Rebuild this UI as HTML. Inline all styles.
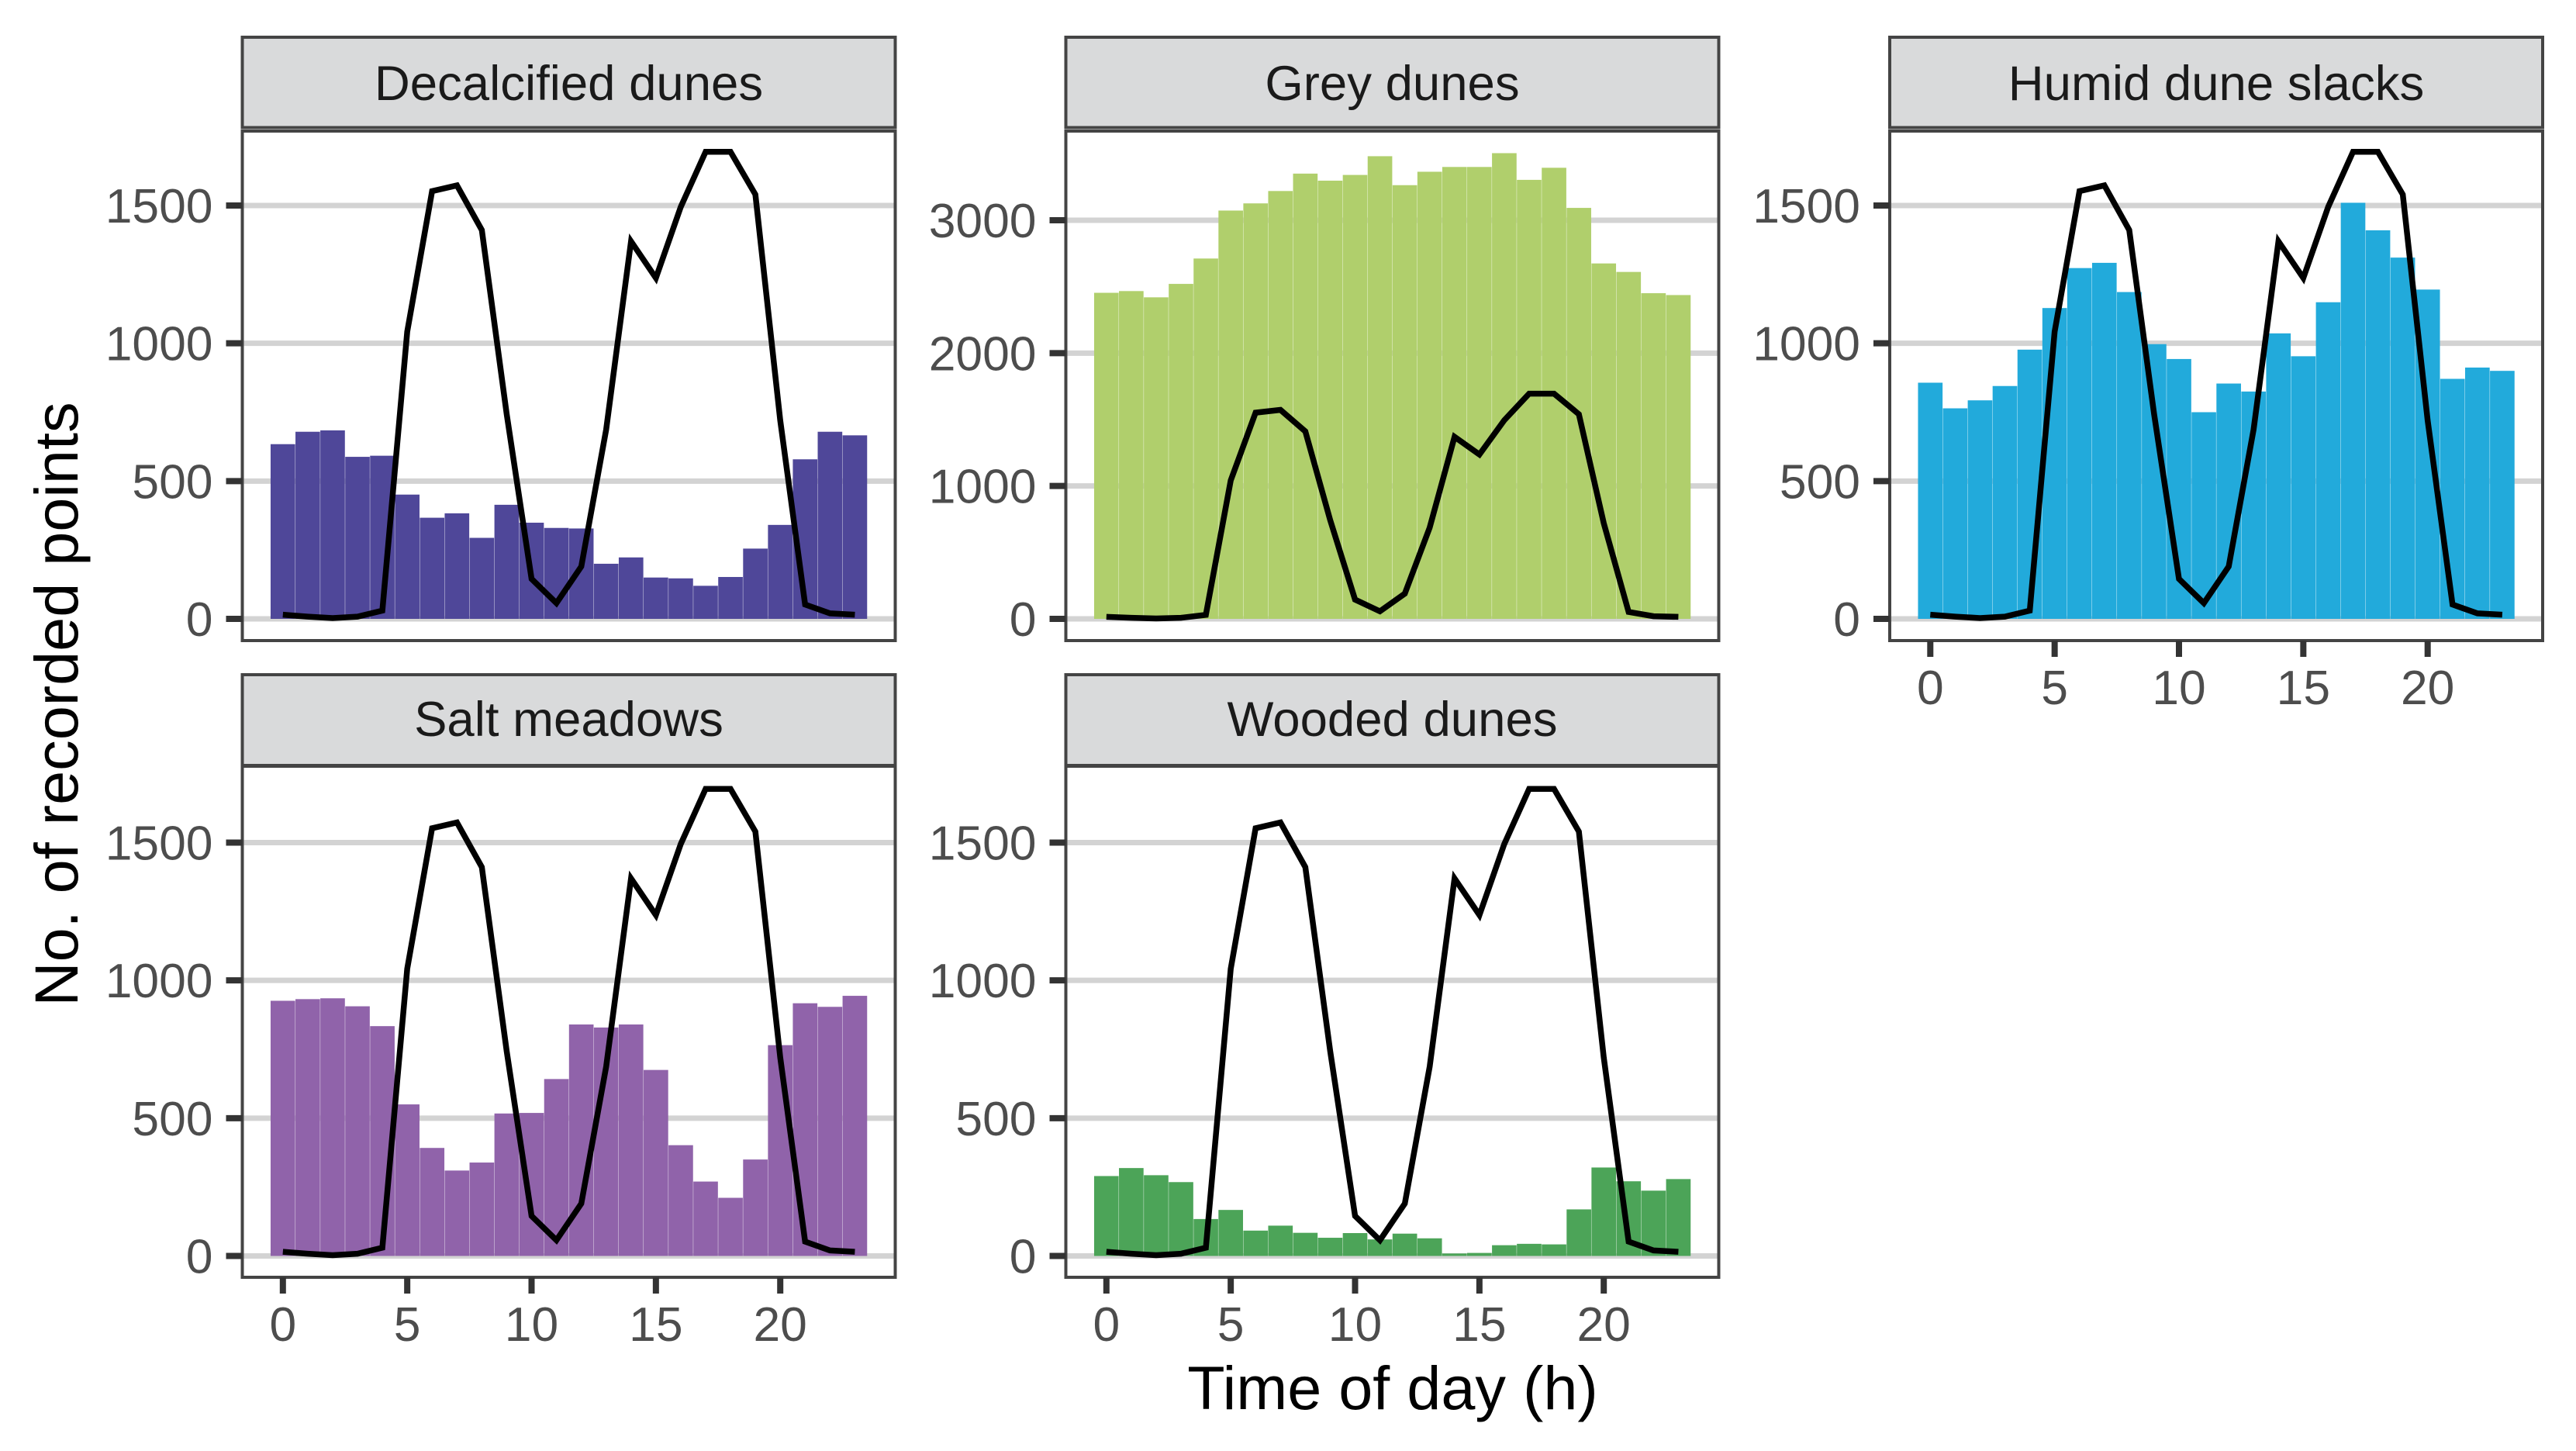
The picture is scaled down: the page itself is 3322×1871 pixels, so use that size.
<!DOCTYPE html>
<html lang="en">
<head>
<meta charset="utf-8">
<title>Recorded points by time of day</title>
<style>
html,body{margin:0;padding:0;background:#fff;width:3322px;height:1871px;overflow:hidden}
svg{display:block;font-family:"Liberation Sans",sans-serif}
</style>
</head>
<body>
<svg id="chart" xmlns="http://www.w3.org/2000/svg" width="3322" height="1871" viewBox="0 0 3322 1871">
<rect x="0" y="0" width="3322" height="1871" fill="#fff"/>
<text transform="translate(100,908) rotate(-90)" text-anchor="middle" font-size="79.2" fill="#000">No. of recorded points</text>
<text x="1796" y="1817" text-anchor="middle" font-size="79.2" fill="#000">Time of day (h)</text>
</svg>
<script>
const hours = [0,1,2,3,4,5,6,7,8,9,10,11,12,13,14,15,16,17,18,19,20,21,22,23];
const xTickLabels = [0,5,10,15,20];
const yTicksCommon = [0,500,1000,1500];
const yTicksGrey = [0,1000,2000,3000];
const activityLine = [15,8,3,8,30,1042,1552,1573,1411,743,145,57,190,687,1370,1237,1495,1695,1695,1540,720,52,20,15];
const decalcifiedDunes = [634,679,684,588,592,451,367,383,294,414,349,330,328,200,223,150,147,120,152,255,341,579,679,666];
const greyDunes = [2454,2467,2420,2521,2712,3073,3127,3220,3351,3298,3341,3482,3264,3365,3401,3401,3505,3304,3395,3093,2675,2611,2451,2437];
const humidDuneSlacks = [857,764,793,845,977,1128,1273,1292,1186,997,943,750,854,825,1036,953,1149,1510,1410,1311,1195,871,912,900];
const saltMeadows = [926,932,935,906,834,550,392,310,339,517,519,642,840,829,840,675,402,270,211,350,765,917,904,944];
const woodedDunes = [290,319,293,268,134,167,92,110,84,66,83,60,81,64,9,11,39,44,42,169,321,271,237,279];

const NS = 'http://www.w3.org/2000/svg';
const svg = document.getElementById('chart');

function make(tag, parent, props, text) {
  const el = document.createElementNS(NS, tag);
  for (const k in props) el.setAttribute(k, props[k]);
  if (text !== undefined) el.textContent = text;
  parent.appendChild(el);
  return el;
}

const PANEL_W = 842;
const HOUR_W = 32.07;

function drawPanel(cfg) {
  const slug = cfg.slug;
  const g = make('g', svg, {});
  
  

  const xScale = h => cfg.left + 52.3 + h * HOUR_W;
  const yScale = v => cfg.y0 - v * cfg.pxPerUnit;

  // gridlines
  cfg.yTicks.forEach(t => {
    const grid = make('line', g, {x1: cfg.left, x2: cfg.left + PANEL_W, y1: yScale(t), y2: yScale(t), stroke: '#d3d3d3', 'stroke-width': 7});
    
    
  });

  // bars
  hours.forEach((h, i) => {
    const bar = make('rect', g, {x: xScale(h - 0.5) + 0.2, y: yScale(cfg.values[i]), width: HOUR_W - 0.4, height: cfg.y0 - yScale(cfg.values[i]), fill: cfg.color});
    
    
  });

  // reference line
  const pts = hours.map((h, i) => xScale(h) + ',' + yScale(activityLine[i])).join(' ');
  const line = make('polyline', g, {points: pts, fill: 'none', stroke: '#000', 'stroke-width': 7.5, 'stroke-linejoin': 'miter'});
  
  

  // panel border
  const border = make('rect', g, {x: cfg.left, y: cfg.top, width: PANEL_W, height: cfg.bottom - cfg.top, fill: 'none', stroke: '#444', 'stroke-width': 4});
  
  

  // strip
  const strip = make('rect', g, {x: cfg.left, y: cfg.stripTop, width: PANEL_W, height: cfg.stripBottom - cfg.stripTop, fill: '#d9dadb', stroke: '#444', 'stroke-width': 4});
  
  
  const stripText = make('text', g, {x: cfg.left + PANEL_W / 2, y: cfg.stripBase, 'text-anchor': 'middle', 'font-size': 63.5, fill: '#1a1a1a'}, cfg.title);
  
  

  // y axis
  cfg.yTicks.forEach(t => {
    const tick = make('line', g, {x1: cfg.left - 21, x2: cfg.left, y1: yScale(t), y2: yScale(t), stroke: '#333', 'stroke-width': 8});
    
    
    const lab = make('text', g, {x: cfg.left - 38, y: yScale(t) + 22, 'text-anchor': 'end', 'font-size': 62.4, fill: '#4d4d4d'}, String(t));
    
    
  });

  // x axis
  if (cfg.showX) {
    xTickLabels.forEach(t => {
      const tick = make('line', g, {x1: xScale(t), x2: xScale(t), y1: cfg.bottom, y2: cfg.bottom + 21, stroke: '#333', 'stroke-width': 8});
      
      
      const lab = make('text', g, {x: xScale(t), y: cfg.bottom + 82, 'text-anchor': 'middle', 'font-size': 62.4, fill: '#4d4d4d'}, String(t));
      
      
    });
  }
}

const ROW1 = {stripTop: 48, stripBottom: 164.5, top: 169, bottom: 826, y0: 798, stripBase: 129};
const ROW2 = {stripTop: 870, stripBottom: 987, top: 988, bottom: 1647, y0: 1619.5, stripBase: 949};
const UNIT_COMMON = 533 / 1500;
const UNIT_GREY = 514 / 3000;

drawPanel({...ROW1, slug: 'decalcified-dunes', title: 'Decalcified dunes', left: 312.5, values: decalcifiedDunes, color: '#4f4799', yTicks: yTicksCommon, pxPerUnit: UNIT_COMMON, showX: false});
drawPanel({...ROW1, slug: 'grey-dunes', title: 'Grey dunes', left: 1374.5, values: greyDunes, color: '#b0cf6c', yTicks: yTicksGrey, pxPerUnit: UNIT_GREY, showX: false});
drawPanel({...ROW1, slug: 'humid-dune-slacks', title: 'Humid dune slacks', left: 2437, values: humidDuneSlacks, color: '#22aadb', yTicks: yTicksCommon, pxPerUnit: UNIT_COMMON, showX: true});
drawPanel({...ROW2, slug: 'salt-meadows', title: 'Salt meadows', left: 312.5, values: saltMeadows, color: '#9063aa', yTicks: yTicksCommon, pxPerUnit: UNIT_COMMON, showX: true});
drawPanel({...ROW2, slug: 'wooded-dunes', title: 'Wooded dunes', left: 1374.5, values: woodedDunes, color: '#4ca458', yTicks: yTicksCommon, pxPerUnit: UNIT_COMMON, showX: true});
</script>
</body>
</html>
